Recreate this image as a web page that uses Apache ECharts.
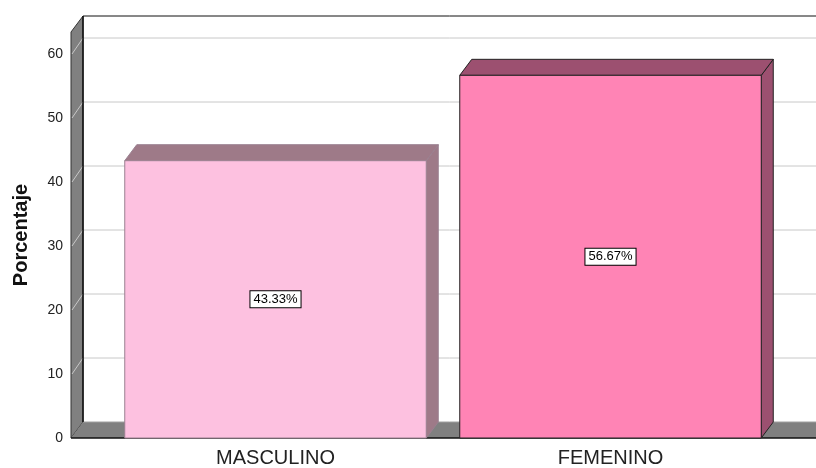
<!DOCTYPE html>
<html>
<head>
<meta charset="utf-8">
<script src="https://cdn.jsdelivr.net/npm/echarts@6/dist/echarts.min.js"></script>
<style>
html, body { margin: 0; padding: 0; background: #fff; }
#chart { width: 816px; height: 468px; }
</style>
</head>
<body>
<div id="chart"></div>
<script>
// datos
var categorias = ['MASCULINO', 'FEMENINO'];
var porcentajes = [43.33, 56.67];
var etiquetas = ['43.33%', '56.67%'];
var ticksY = [10, 20, 30, 40, 50, 60];

var DX = 12, DY = 16;      // profundidad 3d
var WALL = 37;             // pared izquierda a la izquierda del grid

var colores = [
    {front: '#fdc1e0', top: '#9e7a88', side: '#9e7a88', stroke: '#9a8090'},
    {front: '#ff84b5', top: '#9c5070', side: '#9c5070', stroke: '#222'}
];

function paredes(params, api) {
    var cs = params.coordSys;
    var x0 = cs.x - WALL;
    var xEnd = 816;
    var yTop = cs.y;
    var yBot = cs.y + cs.height;
    var children = [];
    // pared del fondo
    children.push({type: 'rect', shape: {x: x0 + DX, y: yTop - DY, width: xEnd - x0, height: cs.height},
        style: {fill: '#fff'}});
    // lineas de rejilla
    for (var i = 0; i < ticksY.length; i++) {
        var y = api.coord([0, ticksY[i]])[1];
        children.push({type: 'line', shape: {x1: x0 + DX, y1: y - DY, x2: xEnd, y2: y - DY},
            style: {stroke: '#c8c8c8', lineWidth: 1}});
    }
    // pared izquierda
    children.push({type: 'polygon', shape: {points: [[x0, yTop], [x0 + DX, yTop - DY], [x0 + DX, yBot - DY], [x0, yBot]]},
        style: {fill: '#808080', stroke: '#333', lineWidth: 1}});
    // lineas de rejilla sobre la pared
    for (var j = 0; j < ticksY.length; j++) {
        var yy = api.coord([0, ticksY[j]])[1];
        children.push({type: 'line', shape: {x1: x0 + 1, y1: yy, x2: x0 + DX, y2: yy - DY},
            style: {stroke: '#c8c8c8', lineWidth: 1}});
    }
    // suelo
    children.push({type: 'polygon', shape: {points: [[x0, yBot], [x0 + DX, yBot - DY], [xEnd, yBot - DY], [xEnd, yBot]]},
        style: {fill: '#808080'}});
    children.push({type: 'line', shape: {x1: x0 + DX, y1: yBot - DY, x2: xEnd, y2: yBot - DY},
        style: {stroke: '#a0a0a0', lineWidth: 1}});
    // bordes
    children.push({type: 'line', shape: {x1: x0 + DX, y1: yTop - DY, x2: xEnd, y2: yTop - DY},
        style: {stroke: '#111', lineWidth: 1}});
    children.push({type: 'line', shape: {x1: x0 + DX, y1: yTop - DY, x2: x0 + DX, y2: yBot - DY},
        style: {stroke: '#111', lineWidth: 1.5}});
    children.push({type: 'line', shape: {x1: x0, y1: yBot, x2: xEnd, y2: yBot},
        style: {stroke: '#111', lineWidth: 1.5}});
    return {type: 'group', children: children};
}

function barras3d(params, api) {
    var idx = api.value(0);
    var val = api.value(1);
    var base = api.coord([idx, 0]);
    var tope = api.coord([idx, val]);
    var w = api.size([1, 0])[0] * 0.9;
    var xl = base[0] - w / 2, xr = base[0] + w / 2;
    var yt = tope[1], yb = base[1];
    var c = colores[params.dataIndex];
    return {
        type: 'group',
        children: [
            {type: 'polygon', shape: {points: [[xr, yt], [xr + DX, yt - DY], [xr + DX, yb - DY], [xr, yb]]},
                style: {fill: c.side, stroke: c.stroke, lineWidth: 1}},
            {type: 'polygon', shape: {points: [[xl, yt], [xl + DX, yt - DY], [xr + DX, yt - DY], [xr, yt]]},
                style: {fill: c.top, stroke: c.stroke, lineWidth: 1}},
            {type: 'rect', shape: {x: xl, y: yt, width: w, height: yb - yt},
                style: {fill: c.front, stroke: c.stroke, lineWidth: 1}},
            {type: 'text', x: base[0], y: (yt + yb) / 2,
                style: {text: etiquetas[params.dataIndex], fill: '#000', font: '13px "Liberation Sans", Arial',
                    align: 'center', verticalAlign: 'middle', backgroundColor: '#fff',
                    borderColor: '#000', borderWidth: 1, padding: [2, 3, 1, 3]}}
        ]
    };
}

var chart = echarts.init(document.getElementById('chart'));
var option = {
    animation: false,
    grid: {left: 108, right: 38, top: 32, bottom: 30, outerBoundsMode: 'none'},
    xAxis: {
        type: 'category',
        data: categorias,
        axisLine: {show: false},
        axisTick: {show: false},
        axisLabel: {fontSize: 20, color: '#222', margin: 10, fontFamily: 'Liberation Sans'}
    },
    yAxis: {
        type: 'value',
        min: 0,
        max: 63.44,
        interval: 10,
        name: 'Porcentaje',
        nameLocation: 'middle',
        nameRotate: 90,
        nameGap: 77,
        nameTextStyle: {fontSize: 20, fontWeight: 'bold', color: '#111', fontFamily: 'Liberation Sans'},
        axisLine: {show: false},
        axisTick: {show: false},
        splitLine: {show: false},
        axisLabel: {
            fontSize: 14, color: '#222', margin: 45, fontFamily: 'Liberation Sans',
            formatter: function (v) { return v % 10 === 0 ? v : ''; }
        }
    },
    series: [
        {
            type: 'custom',
            renderItem: paredes,
            data: [[0, 0]],
            z: 1,
            silent: true
        },
        {
            type: 'custom',
            renderItem: barras3d,
            data: categorias.map(function (c, i) { return [i, porcentajes[i]]; }),
            z: 2
        }
    ]
};
chart.setOption(option);
</script>
</body>
</html>
